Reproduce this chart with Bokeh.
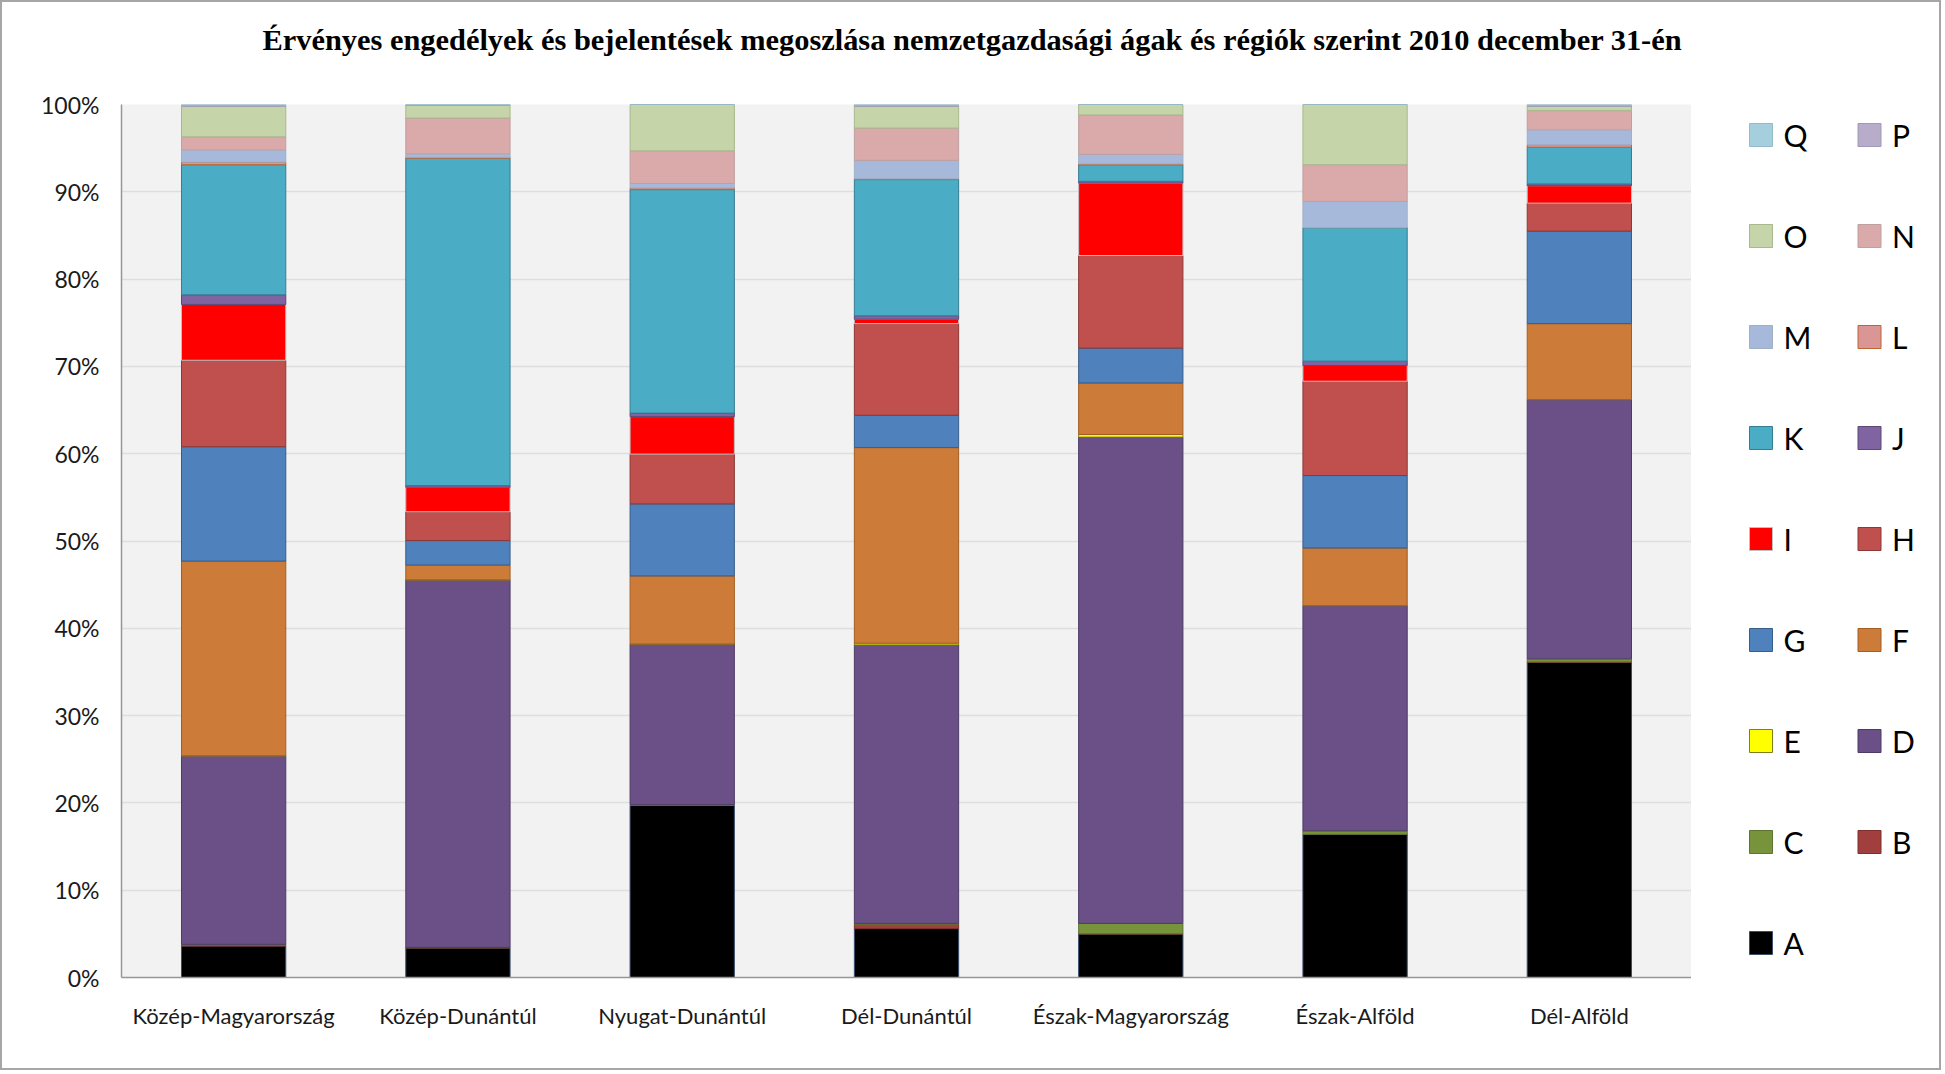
from bokeh.plotting import figure
from bokeh.models import FactorRange, Range1d, PrintfTickFormatter, FixedTicker, ColumnDataSource, Title
from bokeh.layouts import row
from bokeh.core.properties import value
from bokeh.embed import file_html
from bokeh.resources import INLINE

title = "Érvényes engedélyek és bejelentések megoszlása nemzetgazdasági ágak és régiók szerint  2010  december 31-én"

regions = ["Közép-Magyarország", "Közép-Dunántúl", "Nyugat-Dunántúl", "Dél-Dunántúl",
           "Észak-Magyarország", "Észak-Alföld", "Dél-Alföld"]

# shares in percent, per branch (A..Q), per region
A = [3.6, 3.4, 19.7, 5.6, 5.0, 16.4, 36.1]
B = [0.1, 0.0, 0.0, 0.5, 0.0, 0.0, 0.05]
C = [0.1, 0.05, 0.1, 0.1, 1.2, 0.4, 0.35]
D = [21.6, 42.1, 18.4, 31.9, 55.7, 25.8, 29.7]
E = [0.0, 0.0, 0.0, 0.2, 0.3, 0.0, 0.0]
F = [22.3, 1.7, 7.8, 22.4, 5.9, 6.6, 8.7]
G = [13.1, 2.8, 8.25, 3.7, 4.0, 8.3, 10.6]
H = [9.9, 3.3, 5.7, 10.5, 10.6, 10.8, 3.2]
I = [6.4, 2.8, 4.3, 0.5, 8.3, 1.8, 2.0]
J = [1.1, 0.2, 0.4, 0.4, 0.2, 0.5, 0.2]
K = [14.9, 37.5, 25.6, 15.6, 1.9, 15.3, 4.2]
L = [0.3, 0.1, 0.2, 0.1, 0.1, 0.0, 0.3]
M = [1.4, 0.4, 0.5, 2.1, 1.1, 3.0, 1.7]
N = [1.5, 4.1, 3.75, 3.7, 4.5, 4.2, 2.2]
O = [3.5, 1.45, 5.3, 2.5, 1.2, 6.9, 0.5]
P = [0.1, 0.05, 0.0, 0.1, 0.0, 0.0, 0.1]
Q = [0.1, 0.05, 0.0, 0.1, 0.0, 0.0, 0.1]

series = ["A", "B", "C", "D", "E", "F", "G", "H", "I", "J", "K", "L", "M", "N", "O", "P", "Q"]
series_values = [A, B, C, D, E, F, G, H, I, J, K, L, M, N, O, P, Q]

fill_colors = ["#000000", "#A13F3F", "#77933C", "#6A5087", "#FFFF00", "#CC7B38", "#4F81BD",
               "#C0504D", "#FF0000", "#8064A2", "#4BACC6", "#DA9694", "#A7B9DA", "#DAA9A9",
               "#C5D5A9", "#B7ADCB", "#A6CFDE"]
line_colors = ["#3A4F6E", "#7F2E2C", "#5E7530", "#4D3B66", "#7F7F20", "#A35E22", "#385D8A",
               "#8C3836", "#C0C0C0", "#5C4776", "#357D91", "#C0652F", "#9FAFC8", "#BFA0A0",
               "#A9B88D", "#A099B8", "#93BBCA"]

y_ticks = [0, 10, 20, 30, 40, 50, 60, 70, 80, 90, 100]

# legend arrangement (two columns)
legend_col1 = ["Q", "O", "M", "K", "I", "G", "E", "C", "A"]
legend_col2 = ["P", "N", "L", "J", "H", "F", "D", "B"]

FONT = "Lato"
BL, BT, BB = 119, 102, 91         # borders of the main plot
FW, FH = 1570, 873                # frame size
W_MAIN = BL + FW
W_LEG = 248
HGT = BT + FH + BB

data = {"region": regions}
for s, v in zip(series, series_values):
    data[s] = v
src = ColumnDataSource(data)

p = figure(x_range=FactorRange(*regions, range_padding=0), y_range=Range1d(0, 100),
           width=W_MAIN, height=HGT, output_backend="svg", toolbar_location=None,
           min_border_left=BL, min_border_right=0, min_border_top=BT, min_border_bottom=BB)
p.title = None
# spacer between the title and the plot area (added first -> nearest the frame)
p.add_layout(Title(text=" ", text_font_size="10px", standoff=35), "above")
p.add_layout(Title(text=title, align="left", offset=141, standoff=0,
                   text_font="Liberation Serif", text_font_style="bold",
                   text_font_size="30.4px", text_color="black"), "above")
p.background_fill_color = "#F2F2F2"
p.border_fill_color = "white"
p.outline_line_color = None

p.vbar_stack(series, x="region", width=0.465, source=src,
             fill_color=fill_colors, line_color=line_colors, line_width=1)

p.yaxis.ticker = FixedTicker(ticks=y_ticks)
p.yaxis.formatter = PrintfTickFormatter(format="%d%%")
for ax in (p.xaxis[0], p.yaxis[0]):
    ax.axis_line_color = "#969696"
    ax.axis_line_width = 1.5
    ax.major_tick_line_color = None
    ax.minor_tick_line_color = None
    ax.major_tick_out = 0
    ax.major_tick_in = 0
    ax.major_label_text_font = FONT
    ax.major_label_text_color = "#1a1a1a"
p.yaxis.major_label_text_font_size = "23px"
p.xaxis.major_label_text_font_size = "22px"
p.yaxis.major_label_standoff = 22
p.xaxis.major_label_standoff = 24
p.xgrid.grid_line_color = None
p.ygrid.grid_line_color = "#DEDEDE"
p.ygrid.grid_line_width = 1.5

# legend panel (coordinates in canvas pixels, frame aligned with the main plot)
lg = figure(x_range=Range1d(0, W_LEG), y_range=Range1d(BT + FH, BT), width=W_LEG, height=HGT,
            output_backend="svg", toolbar_location=None,
            min_border_left=0, min_border_right=0, min_border_top=BT, min_border_bottom=BB)
lg.axis.visible = False
lg.grid.visible = False
lg.outline_line_color = None
lg.background_fill_color = "white"
lg.border_fill_color = "white"

sw_x, sw_y, sw_size, row_step, col_step, txt_gap = 69.5, 132.5, 23, 101.0, 108.5, 11
lx, ly, lfill, lline, ltext, tx = [], [], [], [], [], []
for ci, col in enumerate((legend_col1, legend_col2)):
    for ri, s in enumerate(col):
        k = series.index(s)
        lx.append(sw_x + ci * col_step)
        ly.append(sw_y + ri * row_step)
        lfill.append(fill_colors[k])
        lline.append(line_colors[k])
        ltext.append(s)
        tx.append(sw_x + ci * col_step + sw_size / 2 + txt_gap)
lsrc = ColumnDataSource(dict(x=lx, y=ly, fill=lfill, line=lline, text=ltext, tx=tx))
lg.rect(x="x", y="y", width=sw_size, height=sw_size, fill_color="fill", line_color="line",
        line_width=1, source=lsrc)
lg.text(x="tx", y="y", text="text", text_baseline="middle", text_align="left",
        text_font=value(FONT), text_font_size="30px", text_color="black", source=lsrc)

layout = row(p, lg)
layout.styles = {"border": "2px solid #A6A6A6"}

open("out.html", "w").write(file_html(layout, INLINE))
